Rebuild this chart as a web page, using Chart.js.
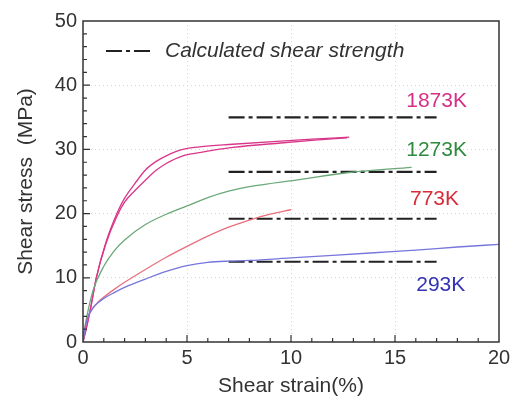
<!DOCTYPE html>
<html>
<head>
<meta charset="utf-8">
<script src="https://cdn.jsdelivr.net/npm/chart.js@4.4.0/dist/chart.umd.min.js"></script>
<style>html,body{margin:0;padding:0;background:#fff}</style>
</head>
<body>
<canvas id="c" width="518" height="399"></canvas>
<script>
// values (strain in %, stress in MPa)
const strain1873a = [0, 0.15, 0.35, 0.64, 1.1, 1.63, 2.0, 2.5, 3.0, 3.5, 4.0, 4.8, 5.6, 7.2, 9.5, 11.0, 12.8];
const stress1873a = [0, 2.0, 5.0, 10.0, 15.5, 20.0, 22.4, 24.7, 26.8, 28.1, 29.0, 30.0, 30.4, 30.8, 31.3, 31.6, 31.9];
const strain1873b = [0, 0.15, 0.35, 0.64, 1.1, 1.63, 2.0, 2.5, 3.0, 3.5, 4.0, 4.8, 5.6, 7.2, 9.5, 11.0, 12.7];
const stress1873b = [0, 2.0, 5.0, 10.0, 15.3, 19.6, 21.8, 23.6, 25.2, 26.7, 27.8, 29.0, 29.5, 30.3, 31.0, 31.4, 31.8];
const strain1273 = [0, 0.1, 0.25, 0.5, 1.0, 1.5, 2.0, 3.0, 4.0, 5.0, 6.0, 7.0, 8.0, 10.4, 12.8, 15.8];
const stress1273 = [0, 2.5, 5.0, 8.2, 11.8, 14.2, 15.9, 18.3, 19.9, 21.2, 22.5, 23.5, 24.2, 25.3, 26.4, 27.2];
const strain773 = [0, 0.1, 0.25, 0.5, 0.75, 1.0, 1.5, 2.0, 3.0, 4.0, 5.0, 6.0, 7.0, 8.0, 9.0, 10.0];
const stress773 = [0, 2.2, 4.0, 5.4, 6.3, 7.0, 8.2, 9.3, 11.3, 13.2, 14.9, 16.5, 17.9, 19.0, 19.9, 20.6];
const strain293 = [0, 0.1, 0.25, 0.5, 0.75, 1.0, 1.5, 2.0, 3.0, 4.0, 5.0, 6.0, 7.0, 8.0, 10.0, 12.0, 14.0, 16.0, 18.0, 20.0];
const stress293 = [0, 2.2, 4.0, 5.4, 6.2, 6.8, 7.7, 8.5, 9.8, 11.0, 11.9, 12.4, 12.6, 12.7, 13.1, 13.5, 13.9, 14.3, 14.8, 15.2];
// calculated shear strength (dash-dot lines)
const strengthStrain = [7, 17];
const strength1873 = 35.0;
const strength1273 = 26.5;
const strength773 = 19.2;
const strength293 = 12.5;
const xTicks = [0, 5, 10, 15, 20];
const yTicks = [0, 10, 20, 30, 40, 50];
const tempLabels = ['1873K', '1273K', '773K', '293K'];

const pts = (xs, ys) => xs.map((x, i) => ({x: x, y: ys[i]}));
const flat = v => strengthStrain.map(x => ({x: x, y: v}));

const DASHDOT = [16, 4, 4, 4];
const curve = (data, color) => ({data: data, borderColor: color, borderWidth: 1.3, pointRadius: 0, showLine: true,
  tension: 0.4, cubicInterpolationMode: 'monotone'});
const strengthLine = v => ({data: flat(v), borderColor: '#222', borderWidth: 2.2, borderDash: DASHDOT, pointRadius: 0, showLine: true});

// label placement in data units
const labelSpots = [
  {text: tempLabels[0], x: 17.0, y: 37.5, color: '#d62f86'},
  {text: tempLabels[1], x: 17.0, y: 29.8, color: '#2f8a3f'},
  {text: tempLabels[2], x: 16.9, y: 22.3, color: '#d92b3a'},
  {text: tempLabels[3], x: 17.2, y: 8.9, color: '#3333b3'}
];

const decor = {
  id: 'decor',
  afterDatasetsDraw(chart) {
    const {ctx, chartArea: a, scales: {x, y}} = chart;
    ctx.save();
    ctx.strokeStyle = '#333';
    ctx.lineWidth = 1.5;
    ctx.strokeRect(a.left, a.top, a.right - a.left, a.bottom - a.top);
    ctx.lineWidth = 1.2;
    ctx.beginPath();
    for (let v = 1; v < 20; v++) {
      const px = x.getPixelForValue(v);
      const len = v % 5 === 0 ? 7 : 4;
      ctx.moveTo(px, a.bottom); ctx.lineTo(px, a.bottom - len);
    }
    for (let v = 2; v < 50; v += 2) {
      const py = y.getPixelForValue(v);
      const len = v % 10 === 0 ? 7 : 4;
      ctx.moveTo(a.left, py); ctx.lineTo(a.left + len, py);
    }
    ctx.stroke();

    ctx.font = '21px "Liberation Sans", Arial, sans-serif';
    ctx.textAlign = 'center';
    ctx.textBaseline = 'middle';
    labelSpots.forEach(l => {
      ctx.fillStyle = l.color;
      ctx.fillText(l.text, x.getPixelForValue(l.x), y.getPixelForValue(l.y));
    });

    // legend
    ctx.strokeStyle = '#222';
    ctx.lineWidth = 2.2;
    ctx.setLineDash(DASHDOT);
    ctx.beginPath();
    ctx.moveTo(106, 51); ctx.lineTo(154, 51);
    ctx.stroke();
    ctx.setLineDash([]);
    ctx.fillStyle = '#333';
    ctx.textAlign = 'left';
    ctx.font = 'italic 21px "Liberation Sans", Arial, sans-serif';
    ctx.fillText('Calculated shear strength', 165, 51);
    ctx.restore();
  }
};

const gridColor = ctx => (ctx.tick && (ctx.index === 0 || ctx.index === ctx.chart.scales[ctx.scale.id].ticks.length - 1)) ? 'rgba(0,0,0,0)' : '#d4d4d4';

new Chart(document.getElementById('c'), {
  type: 'scatter',
  data: {
    datasets: [
      curve(pts(strain293, stress293), '#7676dc'),
      curve(pts(strain773, stress773), '#e8707c'),
      curve(pts(strain1273, stress1273), '#6aa878'),
      curve(pts(strain1873b, stress1873b), '#d9368a'),
      curve(pts(strain1873a, stress1873a), '#d9368a'),
      strengthLine(strength1873),
      strengthLine(strength1273),
      strengthLine(strength773),
      strengthLine(strength293)
    ]
  },
  options: {
    animation: false,
    responsive: false,
    layout: {padding: {left: 0, right: 19, top: 21, bottom: 0}},
    plugins: {legend: {display: false}, tooltip: {enabled: false}},
    scales: {
      x: {
        type: 'linear', min: 0, max: 20,
        afterBuildTicks: s => { s.ticks = xTicks.map(v => ({value: v})); },
        afterFit: s => { s.height = 57; },
        grid: {color: gridColor, lineWidth: 1, drawTicks: false},
        border: {display: false, dash: [1, 3]},
        ticks: {color: '#333', padding: 4, font: {family: '"Liberation Sans", Arial, sans-serif', size: 20}},
        title: {display: true, text: 'Shear strain(%)', color: '#333', padding: {top: 0, bottom: 0},
                font: {family: '"Liberation Sans", Arial, sans-serif', size: 21}}
      },
      y: {
        type: 'linear', min: 0, max: 50,
        afterBuildTicks: s => { s.ticks = yTicks.map(v => ({value: v})); },
        afterFit: s => { s.width = 83; },
        grid: {color: gridColor, lineWidth: 1, drawTicks: false},
        border: {display: false, dash: [1, 3]},
        ticks: {color: '#333', padding: 6, font: {family: '"Liberation Sans", Arial, sans-serif', size: 20}},
        title: {display: true, text: 'Shear stress  (MPa)', color: '#333', padding: {top: 14, bottom: 0},
                font: {family: '"Liberation Sans", Arial, sans-serif', size: 21}}
      }
    }
  },
  plugins: [decor]
});
</script>
</body>
</html>
